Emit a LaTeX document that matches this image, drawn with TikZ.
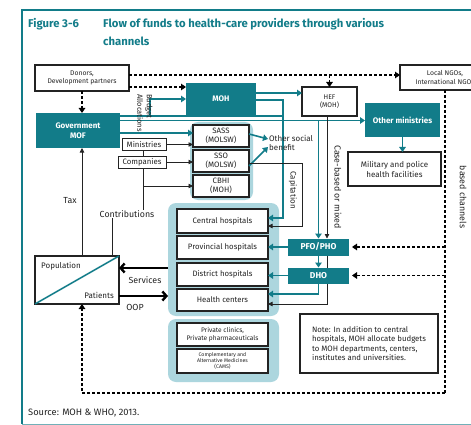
\documentclass[tikz,border=0pt]{standalone}
\usepackage{fontspec}
\setmainfont{Fira Sans}
\usetikzlibrary{arrows.meta,calc}
\definecolor{fundteal}{RGB}{18,124,137}
\definecolor{grpteal}{RGB}{172,214,222}
\definecolor{inkgray}{RGB}{35,35,35}
\begin{document}
\begin{tikzpicture}[x=1pt,y=-1pt,
  wbox/.style={draw=inkgray,line width=1.1pt,fill=white,align=center,inner sep=0pt,outer sep=0pt,
    text=inkgray,font=\fontsize{7.8}{9}\selectfont},
  tbox/.style={fill=fundteal,text=white,align=center,inner sep=0pt,outer sep=0pt,
    font=\fontsize{8}{10}\selectfont\bfseries},
  grp/.style={fill=grpteal,rounded corners=8pt,inner sep=0pt,outer sep=0pt},
  lbl/.style={text=inkgray,inner sep=1pt,font=\fontsize{8.8}{10}\selectfont},
  tarr/.style={draw=fundteal,line width=1.6pt,-{Triangle[length=5pt,width=6.5pt]}},
  tline/.style={draw=fundteal,line width=1.6pt},
  barr/.style={draw=inkgray,line width=0.8pt,-{Triangle[length=4.5pt,width=4.5pt]}},
  bline/.style={draw=inkgray,line width=0.8pt},
  dsh/.style={draw=black,line width=1.7pt,dash pattern=on 3pt off 2pt,-{Triangle[length=5pt,width=6.5pt]}},
  dline/.style={draw=black,line width=1.7pt,dash pattern=on 3pt off 2pt},
  fat/.style={draw=black,line width=2.4pt,-{Straight Barb[length=4pt,width=9pt,line width=2.4pt]}}
]
\useasboundingbox (0,0) rectangle (471,425);
\fill[white] (0,0) rectangle (471,425);

% frame and title
\draw[fundteal,line width=1.6pt] (471,10) -- (22,10) -- (22,424);
\draw[fundteal!60,line width=1pt] (22,424) -- (471,424);
\tikzset{ttlfont/.style={anchor=base west,inner sep=0pt,text=fundteal,font=\fontsize{11.3}{14}\selectfont\bfseries}}
\node[ttlfont] (fig) at (28,28) {Figure 3-6};
\node[ttlfont] (ttl) at (103,28) {Flow of funds to health-care providers through various};
\node[ttlfont] (ttl2) at (103,46) {channels};

% light panels behind grouped boxes
\node[grp,minimum width=63pt,minimum height=78pt] (insgrp) at (221.5,161) {};
\node[grp,minimum width=111pt,minimum height=113pt] (pubgrp) at (223.5,259.5) {};
\node[grp,minimum width=111pt,minimum height=63pt] (prvgrp) at (223.5,350.5) {};

% funding sources and agents
\node[wbox,minimum width=94pt,minimum height=26pt,font=\fontsize{6.8}{8.5}\selectfont] (donors) at (82,78) {Donors,\\Development partners};
\node[wbox,minimum width=90pt,minimum height=25pt,font=\fontsize{6.8}{8.5}\selectfont] (ngo) at (445,77.5) {Local NGOs,\\International NGOs};
\node[tbox,minimum width=84pt,minimum height=35pt] (mof) at (78,130.5) {Government\\MOF};
\node[tbox,minimum width=70pt,minimum height=32pt] (moh) at (221,99) {MOH};
\node[wbox,minimum width=55pt,minimum height=29pt,font=\fontsize{6.8}{8.5}\selectfont] (hef) at (329.5,101.5) {HEF\\(MOH)};
\node[tbox,minimum width=75pt,minimum height=34pt] (othmin) at (402.5,120) {Other ministries};
\node[wbox,minimum width=93pt,minimum height=34pt,font=\fontsize{8}{10}\selectfont] (mil) at (394.5,169) {Military and police\\health facilities};
\node[wbox,minimum width=56pt,minimum height=22pt] (sass) at (221,136) {SASS\\(MOLSW)};
\node[wbox,minimum width=56pt,minimum height=22pt] (sso) at (221,161) {SSO\\(MOLSW)};
\node[wbox,minimum width=56pt,minimum height=22pt] (cbhi) at (221,186) {CBHI\\(MOH)};
\node[wbox,minimum width=44pt,minimum height=12pt,line width=0.9pt] (ministries) at (144,144.5) {Ministries};
\node[wbox,minimum width=48pt,minimum height=12pt,line width=0.9pt] (companies) at (142,162) {Companies};
\node[wbox,minimum width=84pt,minimum height=48pt] (pop) at (77,280) {};
\draw[fundteal,line width=1.5pt] (pop.south west) -- (pop.north east);
\node[lbl,anchor=west,font=\fontsize{8}{9}\selectfont] (popl) at (40,266) {Population};
\node[lbl,anchor=east,font=\fontsize{8}{9}\selectfont] (patl) at (115,295) {Patients};
\node[tbox,minimum width=61pt,minimum height=17pt,font=\fontsize{8.5}{10}\selectfont\bfseries] (pfo) at (318.5,247) {PFO/PHO};
\node[tbox,minimum width=61pt,minimum height=16pt,font=\fontsize{8.5}{10}\selectfont\bfseries] (dho) at (318.5,275.5) {DHO};

% providers
\node[wbox,minimum width=91pt,minimum height=24pt] (central) at (222.5,221) {Central hospitals};
\node[wbox,minimum width=91pt,minimum height=23pt] (provincial) at (222.5,247.5) {Provincial hospitals};
\node[wbox,minimum width=91pt,minimum height=23pt] (district) at (222.5,274.5) {District hospitals};
\node[wbox,minimum width=91pt,minimum height=22pt] (health) at (222.5,300) {Health centers};
\node[wbox,minimum width=91pt,minimum height=23pt,font=\fontsize{6.6}{8}\selectfont] (private) at (222.5,334.5) {Private clinics,\\Private pharmaceuticals};
\node[wbox,minimum width=91pt,minimum height=24pt,font=\fontsize{5.2}{6.2}\selectfont] (cams) at (222.5,361) {Complementary and\\Alternative Medicines\\(CAMS)};
\node[wbox,minimum width=138pt,minimum height=59pt,align=left,font=\fontsize{7.8}{9.6}\selectfont] (note) at (369,343.5) {Note: In addition to central\\hospitals, MOH allocate budgets\\to MOH departments, centers,\\institutes and universities.};

% bend points
\coordinate (bud) at (150,116);
\coordinate (yBud) at (0,99);
\coordinate (cenTop) at (283,100);
\coordinate (capX) at (302,0);
\coordinate (caseX) at (327,0);
\coordinate (conX) at (143,214);
\coordinate (cbhiBr) at (143,186);
\coordinate (popC) at (112,256);
\coordinate (taxX) at (82,256);
\coordinate (loopR) at (445,393);
\coordinate (svcY) at (0,268);
\coordinate (oopY) at (0,296);

% donor and NGO channels
\draw[dsh] ([yshift=3pt]donors.east) -- ([yshift=3pt]donors.east -| ngo.west);
\draw[dsh] ([yshift=3pt]donors.east -| hef.north) -- (hef.north);
\draw[dsh] ([yshift=-9pt]donors.east) -- ([yshift=-9pt]donors.east -| moh.west);
\draw[dsh] (donors.south) -- (donors.south |- mof.north);
\draw[dline] (ngo.south) -- (loopR);
\draw[dsh] (loopR) -| ([xshift=5pt]pop.south);
\draw[dsh,shorten >=3pt] (ngo.south |- pfo.east) -- (pfo.east);
\draw[dsh,shorten >=3pt] (ngo.south |- dho.east) -- (dho.east);

% government budget flows
\draw[tarr] (mof.east |- bud) -- (bud) |- (moh.west |- yBud);
\draw[tline] (bud) -- (cenTop |- bud);
\draw[tarr] (moh.east |- cenTop) -- (cenTop) |- ([yshift=3pt]central.east);
\draw[tarr] ([yshift=6pt]moh.east) -- ([yshift=6pt]moh.east -| hef.west);
\draw[tarr] ([yshift=10pt]mof.east) -- ([yshift=10pt]mof.east -| othmin.west);
\draw[tarr] ([yshift=10pt]mof.east -| pfo.north) -- (pfo.north);
\draw[tarr] ([yshift=-2.5pt]mof.east) -- ([yshift=-2.5pt]mof.east -| sass.west);
\draw[tarr] (othmin.south) -- (othmin.south |- mil.north);
\node[lbl,rotate=-90,align=left,font=\fontsize{7.5}{9.5}\selectfont] (budl) at (145,113) {Budget\\Allocations};

% insurance and contributions
\draw[barr] (ministries.east) -- (ministries.east -| sass.west);
\draw[barr] (companies.east) -- (companies.east -| sso.west);
\draw[bline] (ministries.south -| conX) -- (companies.north -| conX);
\draw[bline] (popC) |- (conX) -- (companies.south -| conX);
\draw[barr] (cbhiBr) -- (cbhi.west);
\node[lbl,fill=white] (contrib) at (127,214) {Contributions};
\draw[barr] (taxX) -- (taxX |- mof.south);
\node[lbl] (taxl) at (70,201) {Tax};
\node[lbl,anchor=west,align=left,font=\fontsize{8}{9.5}\selectfont] (osb) at (268,143) {Other social\\benefit};
\draw[tarr] ([yshift=2pt]sass.east) -- ([yshift=4pt]osb.west);
\draw[tarr] ([yshift=-5pt]sso.east) -- ([yshift=-4pt]osb.west);
\draw[barr] ([yshift=-2pt]sso.east) -- ([yshift=-2pt]sso.east -| capX) |- ([yshift=-5pt]central.east);
\node[lbl,rotate=-90,font=\fontsize{8}{9}\selectfont] (capl) at (293,190) {Capitation};

% HEF and provincial / district channels
\draw[barr] (hef.south -| caseX) -- (pfo.north -| caseX);
\node[lbl,rotate=-90] (casel) at (338,187) {Case-based or mixed};
\draw[bline] (pfo.south -| caseX) -- (dho.north -| caseX);
\draw[barr] (dho.south -| caseX) |- ([yshift=-4pt]health.east);
\draw[tarr] (pfo.south) -- (dho.north);
\draw[tarr] (pfo.west) -- (pfo.west -| provincial.east);
\draw[tarr] (dho.west) -- (dho.west -| district.east);
\draw[tarr] (dho.south) |- ([yshift=6pt]health.east);
\node[lbl,rotate=-90] (chl) at (463,197) {based channels};

% services and out-of-pocket payments
\draw[fat] (pubgrp.west |- svcY) -- (pop.east |- svcY);
\node[lbl] (svcl) at (145,280) {Services};
\draw[fat] (pop.east |- oopY) -- (pubgrp.west |- oopY);
\node[lbl] (oopl) at (135,307) {OOP};

\node[anchor=west,inner sep=0pt,text=inkgray,font=\fontsize{9.3}{11}\selectfont] (src) at (28,413) {Source: MOH \& WHO, 2013.};
\end{tikzpicture}
\end{document}
